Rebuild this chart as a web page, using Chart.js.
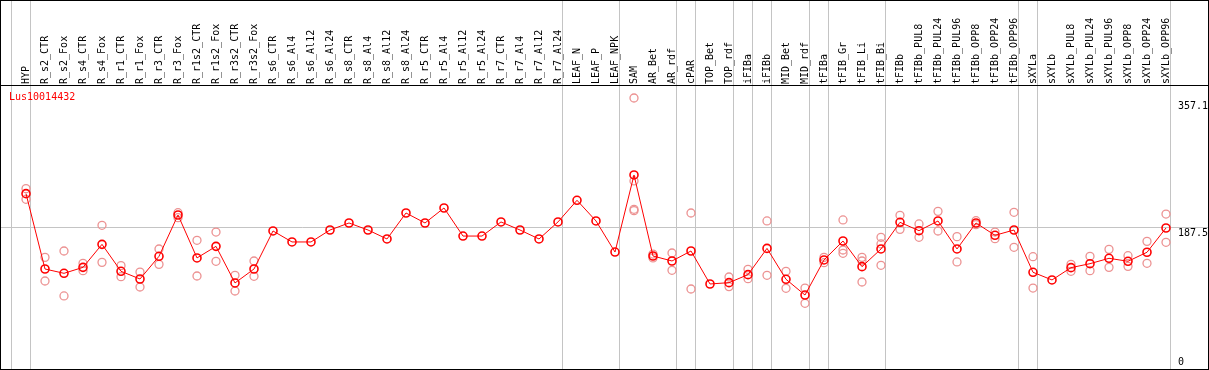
<!DOCTYPE html>
<html>
<head>
<meta charset="utf-8">
<script src="https://cdn.jsdelivr.net/npm/chart.js@4.4.1/dist/chart.umd.min.js"></script>
<style>
  body { margin: 0; background: #fff; }
  #wrap { position: absolute; left: 0; top: 0; width: 1207px; height: 368px; border: 1px solid #000; }
</style>
</head>
<body>
<div id="wrap"><canvas id="chart" width="1207" height="368"></canvas></div>
<script>
// DATI
const geneName = 'Lus10014432';

const categories = ['HYP', 'R_s2_CTR', 'R_s2_Fox', 'R_s4_CTR', 'R_s4_Fox', 'R_r1_CTR', 'R_r1_Fox',
    'R_r3_CTR', 'R_r3_Fox', 'R_r1s2_CTR', 'R_r1s2_Fox', 'R_r3s2_CTR', 'R_r3s2_Fox',
    'R_s6_CTR', 'R_s6_Al4', 'R_s6_Al12', 'R_s6_Al24', 'R_s8_CTR', 'R_s8_Al4', 'R_s8_Al12', 'R_s8_Al24',
    'R_r5_CTR', 'R_r5_Al4', 'R_r5_Al12', 'R_r5_Al24', 'R_r7_CTR', 'R_r7_Al4', 'R_r7_Al12', 'R_r7_Al24',
    'LEAF_N', 'LEAF_P', 'LEAF_NPK', 'SAM', 'AR_Bet', 'AR_rdf', 'cPAR', 'TOP_Bet', 'TOP_rdf',
    'iFIBa', 'iFIBb', 'MID_Bet', 'MID_rdf', 'tFIBa', 'tFIB_Gr', 'tFIB_Li', 'tFIB_Bi',
    'tFIBb', 'tFIBb_PUL8', 'tFIBb_PUL24', 'tFIBb_PUL96', 'tFIBb_OPP8', 'tFIBb_OPP24', 'tFIBb_OPP96',
    'sXYLa', 'sXYLb', 'sXYLb_PUL8', 'sXYLb_PUL24', 'sXYLb_PUL96', 'sXYLb_OPP8', 'sXYLb_OPP24', 'sXYLb_OPP96'];

// media per campione
const means = [233.5, 132.6, 126.8, 134.8, 165.6, 129.5, 119.2, 149.6, 204.9, 147.4,
    162.9, 113.9, 132.6, 183.5, 168.8, 168.8, 184.8, 194.2, 184.8, 172.8,
    207.6, 194.2, 214.3, 176.7, 176.7, 195.6, 184.8, 172.8, 195.6, 224.6,
    196.9, 155.3, 258.5, 150.0, 143.3, 156.7, 112.5, 114.3, 125.0, 160.2,
    118.8, 97.7, 144.7, 170.1, 135.7, 159.4, 195.1, 183.9, 196.9, 159.4,
    194.2, 177.7, 184.8, 128.2, 117.9, 134.4, 139.7, 146.9, 142.9, 155.0, 187.5];

// repliche
const replicates = [
    [240.2, 225.9], [148.2, 116.5], [156.7, 96.5], [140.2, 130.4], [191.1, 141.5],
    [137.1, 122.3], [128.5, 108.5], [159.4, 138.8], [208.0, 201.3], [171.0, 123.2],
    [182.1, 142.9], [124.1, 103.1], [143.3, 122.8], [], [],
    [], [], [], [], [],
    [], [], [], [], [],
    [], [], [], [], [],
    [], [], [361.6, 250.5, 212.5, 210.7], [152.6, 147.4], [154.0, 130.8],
    [207.6, 105.8], [], [121.9, 109.0], [132.1, 119.6], [196.9, 124.1],
    [129.5, 106.7], [107.1, 86.6], [148.2, 141.0], [198.3, 158.0, 153.6], [148.2, 143.3, 115.2],
    [175.0, 166.1, 137.5], [204.5, 185.7], [192.9, 175.0], [209.8, 183.5], [175.9, 142.0],
    [197.3, 192.0], [182.1, 173.2], [208.5, 161.6], [149.1, 107.1], [],
    [138.8, 129.5], [149.6, 130.4], [158.9, 134.8], [150.4, 136.1], [169.6, 140.2], [206.2, 168.3]];

const yTicks = [0, 187.5, 357.1];
const yTickLabels = ['0', '187.5', '357.1'];
const refLine = 187.5;

// fine gruppi (linee verticali)
const groupEnds = [-1, 0, 28, 31, 34, 35, 37, 38, 39, 41, 42, 45, 52, 53, 60];
const groupShift = 4.5 / 19;

const MONO = { family: 'DejaVu Sans Mono', size: 10 };
const GRID = '#c4c4c4';

const meanPoints = means.map((v, i) => ({ x: i, y: v }));
const repPoints = [];
replicates.forEach((list, i) => list.forEach(v => repPoints.push({ x: i, y: v })));

const isGroupTick = v => Math.abs(v - Math.round(v)) > 0.01;

// nome del gene in alto a sinistra
const geneLabel = {
    id: 'geneLabel',
    afterDraw(chart) {
        const c = chart.ctx;
        const area = chart.chartArea;
        c.save();
        c.font = '10px "DejaVu Sans Mono"';
        c.fillStyle = '#ff0000';
        c.textBaseline = 'middle';
        c.fillText(geneName, area.left + 8, area.top + 12);
        c.restore();
    }
};

const ctx = document.getElementById('chart').getContext('2d');
const chart = new Chart(ctx, {
    type: 'line',
    data: {
        datasets: [{
            label: geneName,
            data: meanPoints,
            borderColor: '#ff0000',
            borderWidth: 1,
            pointRadius: 4,
            pointBorderWidth: 1.6,
            pointBorderColor: '#ff0000',
            pointBackgroundColor: 'rgba(0,0,0,0)',
            tension: 0,
            order: 0
        }, {
            label: 'replicates',
            data: repPoints,
            showLine: false,
            pointRadius: 4,
            pointBorderWidth: 1.3,
            pointBorderColor: '#ec9292',
            pointBackgroundColor: 'rgba(0,0,0,0)',
            order: 1
        }]
    },
    options: {
        responsive: false,
        devicePixelRatio: 1,
        animation: false,
        layout: { padding: 0, autoPadding: false },
        scales: {
            x: {
                type: 'linear',
                position: 'top',
                min: -25 / 19,
                max: -25 / 19 + 1207 / 19,
                afterBuildTicks: scale => {
                    const t = categories.map((c, i) => ({ value: i }));
                    groupEnds.forEach(g => t.push({ value: g + groupShift }));
                    t.sort((a, b) => a.value - b.value);
                    scale.ticks = t;
                },
                afterFit: scale => {
                    scale.height = 84;
                    scale.paddingLeft = 0;
                    scale.paddingRight = 0;
                },
                ticks: {
                    autoSkip: false,
                    minRotation: 90,
                    maxRotation: 90,
                    padding: -83,
                    labelOffset: 12,
                    font: MONO,
                    color: '#000',
                    callback: v => isGroupTick(v) ? '' : categories[Math.round(v)]
                },
                grid: {
                    tickLength: 84,
                    color: c => (c.tick && isGroupTick(c.tick.value)) ? GRID : 'rgba(0,0,0,0)'
                },
                border: { display: true, color: '#000', width: 1 }
            },
            y: {
                type: 'linear',
                position: 'right',
                min: -1.34,
                max: 379.0,
                afterBuildTicks: scale => { scale.ticks = yTicks.map(v => ({ value: v })); },
                afterFit: scale => {
                    scale.width = 0;
                    scale.paddingTop = 0;
                    scale.paddingBottom = 0;
                },
                ticks: {
                    mirror: true,
                    crossAlign: 'far',
                    padding: 0,
                    labelOffset: 5,
                    // lo "0" sta sul bordo inferiore: lo alzo dentro il riquadro
                    font: c => (c.tick && c.tick.value === 0) ? { ...MONO, lineHeight: 2.1 } : MONO,
                    color: '#000',
                    callback: v => {
                        const label = yTickLabels[yTicks.indexOf(v)];
                        return v === 0 ? [label, ''] : label;
                    }
                },
                grid: {
                    drawTicks: false,
                    color: c => (c.tick && c.tick.value === refLine) ? GRID : 'rgba(0,0,0,0)'
                },
                border: { display: false }
            }
        },
        plugins: {
            legend: { display: false },
            tooltip: { enabled: false }
        }
    },
    plugins: [geneLabel]
});
</script>
</body>
</html>
